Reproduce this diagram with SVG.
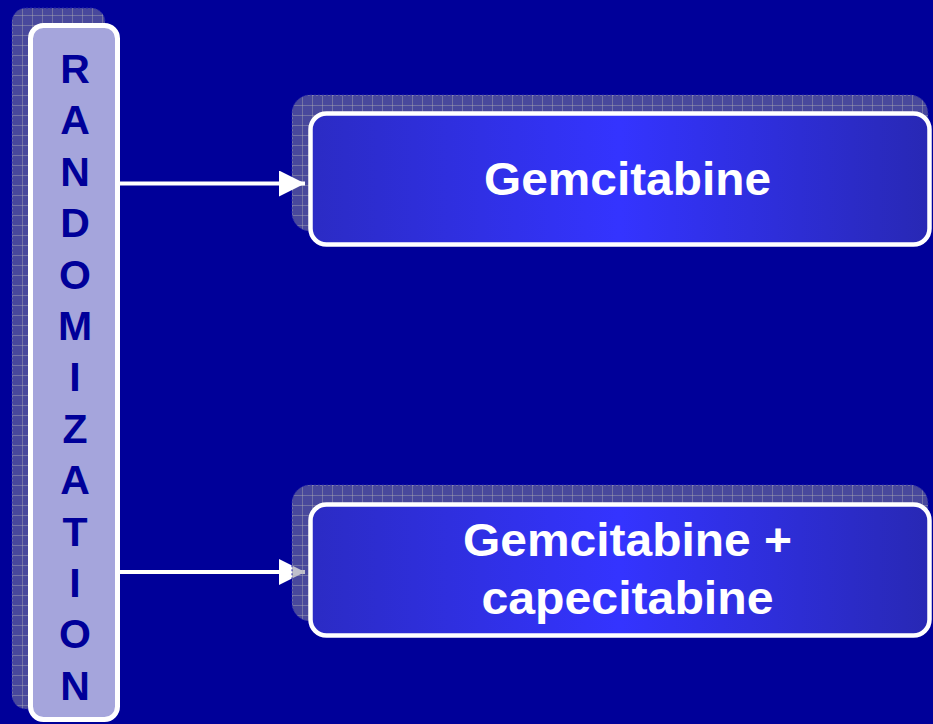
<svg xmlns="http://www.w3.org/2000/svg" width="933" height="724" viewBox="0 0 933 724">
  <defs>
    <!-- hatched drop shadow: translucent grey with a fine grid -->
    <pattern id="grid" width="10" height="10" patternUnits="userSpaceOnUse" x="2" y="5">
      <rect width="10" height="10" fill="#88889e" fill-opacity="0.53"/>
      <path d="M0 0.5H10M0.5 0V10" stroke="#b4b4b4" stroke-opacity="0.4" stroke-width="1" fill="none"/>
    </pattern>
    <linearGradient id="armFill" x1="0" y1="0" x2="1" y2="0">
      <stop offset="0" stop-color="#2b2bc4"/>
      <stop offset="0.5" stop-color="#3434ff"/>
      <stop offset="1" stop-color="#2828b4"/>
    </linearGradient>
    <marker id="head" viewBox="0 0 26 26" refX="26" refY="13" markerWidth="26" markerHeight="26" markerUnits="userSpaceOnUse" orient="auto">
      <path d="M0 0L26 13L0 26Z" fill="#ffffff"/>
    </marker>
  </defs>
  <style>
    .shadow { fill: url(#grid); stroke: #2222aa; stroke-width: 1; stroke-dasharray: 2 2; }
    .arm { fill: url(#armFill); stroke: #ffffff; stroke-width: 4.5; }
    .armText { font-family: "Liberation Sans", Arial, sans-serif; font-weight: bold; font-size: 46px; fill: #ffffff; text-anchor: middle; }
    .vert { font-family: "Liberation Sans", Arial, sans-serif; font-weight: bold; font-size: 41px; fill: #000099; text-anchor: middle; }
    .link { stroke: #ffffff; stroke-width: 4; fill: none; marker-end: url(#head); }
  </style>

  <rect width="933" height="724" fill="#000099"/>

  <!-- vertical randomization bar -->
  <g id="randomization">
    <rect class="shadow" x="12" y="8" width="93" height="701" rx="14"/>
    <rect x="30.5" y="25.5" width="87" height="694" rx="13" fill="#a5a5dc" stroke="#ffffff" stroke-width="5"/>
    <text class="vert" x="75" y="83">R</text>
    <text class="vert" x="75" y="134.4">A</text>
    <text class="vert" x="75" y="185.8">N</text>
    <text class="vert" x="75" y="237.2">D</text>
    <text class="vert" x="75" y="288.6">O</text>
    <text class="vert" x="75" y="340">M</text>
    <text class="vert" x="75" y="391.4">I</text>
    <text class="vert" x="75" y="442.8">Z</text>
    <text class="vert" x="75" y="494.2">A</text>
    <text class="vert" x="75" y="545.6">T</text>
    <text class="vert" x="75" y="597">I</text>
    <text class="vert" x="75" y="648.4">O</text>
    <text class="vert" x="75" y="699.8">N</text>
  </g>

  <!-- arm 1 -->
  <g id="arm-gemcitabine">
    <rect class="shadow" x="292" y="95" width="636" height="136" rx="18"/>
    <rect class="arm" x="310.5" y="113.5" width="619" height="131" rx="16"/>
    <text class="armText" x="627.5" y="195" textLength="287" lengthAdjust="spacingAndGlyphs">Gemcitabine</text>
  </g>

  <!-- connectors -->
  <g id="connectors">
    <line class="link" x1="120" y1="183.5" x2="305" y2="183.5"/>
    <line class="link" x1="120" y1="572" x2="305" y2="572"/>
  </g>

  <!-- arm 2 -->
  <g id="arm-gem-cape">
    <rect class="shadow" x="292" y="485" width="636" height="136" rx="18"/>
    <rect class="arm" x="310.5" y="504.5" width="619" height="131" rx="16"/>
    <text class="armText" x="627.5" y="556" textLength="329" lengthAdjust="spacingAndGlyphs">Gemcitabine +</text>
    <text class="armText" x="627.5" y="614" textLength="292" lengthAdjust="spacingAndGlyphs">capecitabine</text>
  </g>
</svg>
